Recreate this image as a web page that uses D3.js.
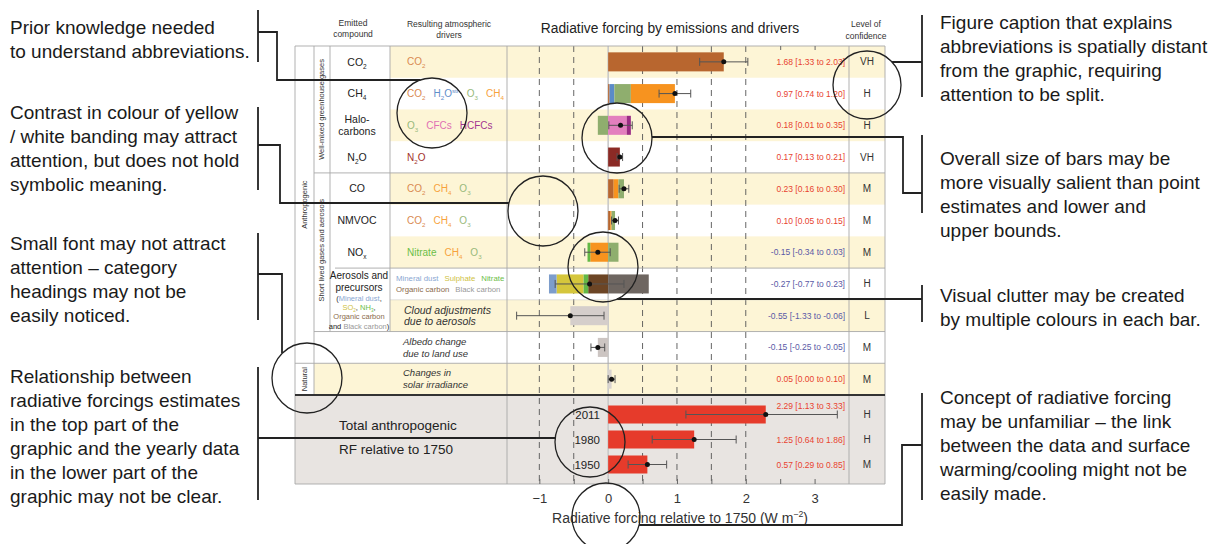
<!DOCTYPE html>
<html>
<head>
<meta charset="utf-8">
<script src="https://cdn.jsdelivr.net/npm/d3@7"></script>
<style>
  body { margin: 0; background: #fff; }
  svg { font-family: "Liberation Sans", Arial, sans-serif; }
</style>
</head>
<body>
<svg id="chart" width="1224" height="544"></svg>
<script>
// ---- data ----
var rows = ["CO2", "CH4", "Halocarbons", "N2O", "CO", "NMVOC", "NOx", "Aerosols", "Cloud", "Albedo", "Solar"];
var best = [1.68, 0.97, 0.18, 0.17, 0.23, 0.10, -0.15, -0.27, -0.55, -0.15, 0.05];
var low  = [1.33, 0.74, 0.01, 0.13, 0.16, 0.05, -0.34, -0.77, -1.33, -0.25, 0.00];
var high = [2.03, 1.20, 0.35, 0.21, 0.30, 0.15, 0.03, 0.23, -0.06, -0.05, 0.10];
var confidence = ["VH", "H", "H", "VH", "M", "M", "M", "H", "L", "M", "M"];

// bar pieces of each row, listed outwards from zero
var components = [
  [["CO2", 1.68]],
  [["CO2", 0.02], ["H2O", 0.07], ["O3", 0.24], ["CH4", 0.64]],
  [["O3", -0.15], ["CFCs", 0.27], ["HCFCs", 0.06]],
  [["N2O", 0.17]],
  [["CO2", 0.08], ["CH4", 0.07], ["O3", 0.08]],
  [["CO2", 0.03], ["CH4", 0.02], ["O3", 0.05]],
  [["CH4", -0.26], ["Nitrate", -0.04], ["O3", 0.15]],
  [["OC", -0.29], ["Nitrate", -0.07], ["Sulphate", -0.39], ["Dust", -0.11], ["BC", 0.59]],
  [["Cloud", -0.55]],
  [["Albedo", -0.15]],
  [["Solar", 0.05]]
];

var years = ["2011", "1980", "1950"];
var totalBest = [2.29, 1.25, 0.57];
var totalLow  = [1.13, 0.64, 0.29];
var totalHigh = [3.33, 1.86, 0.85];
var totalConf = ["H", "H", "M"];

var labelTicks = [-1, 0, 1, 2, 3];
var dashTicks = [-1, -0.5, 0.5, 1, 1.5, 2];
var halfTicks = [-1, -0.5, 0, 0.5, 1, 1.5, 2, 2.5, 3];

// text content of the table
var compoundLabels = ["CO_2", "CH_4", "Halo-|carbons", "N_2O", "CO", "NMVOC", "NO_x"];
var driverLabels = [
  [["CO_2", "CO2"]],
  [["CO_2", "CO2"], ["H_2O^{str}", "H2O"], ["O_3", "O3"], ["CH_4", "CH4"]],
  [["O_3", "O3"], ["CFCs", "CFCs"], ["HCFCs", "HCFCs"]],
  [["N_2O", "N2O"]],
  [["CO_2", "CO2"], ["CH_4", "CH4"], ["O_3", "O3"]],
  [["CO_2", "CO2"], ["CH_4", "CH4"], ["O_3", "O3"]],
  [["Nitrate", "Nitrate"], ["CH_4", "CH4"], ["O_3", "O3"]]
];
var aerosolDrivers = [
  [["Mineral dust", "Dust"], ["Sulphate", "Sulphate"], ["Nitrate", "Nitrate"]],
  [["Organic carbon", "OC"], ["Black carbon", "BC"]]
];
var aerosolCompound = [
  [["(", "ink"], ["Mineral dust", "Dust"], [",", "ink"]],
  [["SO_2", "Sulphate"], [", ", "ink"], ["NH_3", "Nitrate"], [",", "ink"]],
  [["Organic carbon", "OC"]],
  [["and ", "ink"], ["Black carbon", "BC"], [")", "ink"]]
];
var italicLabels = {
  Cloud: ["Cloud adjustments", "due to aerosols"],
  Albedo: ["Albedo change", "due to land use"],
  Solar: ["Changes in", "solar irradiance"]
};
var yellowRows = ["CO2", "Halocarbons", "CO", "NOx", "Cloud", "Solar"];

var notesLeft = [
  [27, ["Prior knowledge needed", "to understand abbreviations."]],
  [112, ["Contrast in colour of yellow", "/ white banding may attract", "attention, but does not hold", "symbolic meaning."]],
  [243, ["Small font may not attract", "attention \u2013 category", "headings may not be", "easily noticed."]],
  [376, ["Relationship between", "radiative forcings estimates", "in the top part of the", "graphic and the yearly data", "in the lower part of the", "graphic may not be clear."]]
];
var notesRight = [
  [22, ["Figure caption that explains", "abbreviations is spatially distant", "from the graphic, requiring", "attention to be split."]],
  [158, ["Overall size of bars may be", "more visually salient than point", "estimates and lower and", "upper bounds."]],
  [295, ["Visual clutter may be created", "by multiple colours in each bar."]],
  [397, ["Concept of radiative forcing", "may be unfamiliar \u2013 the link", "between the data and surface", "warming/cooling might not be", "easily made."]]
];

// ---- styles ----
var barColour = {CO2: "#b8662f", H2O: "#5b8bc8", O3: "#8fae6e", CH4: "#f7931f", CFCs: "#e37fbe",
  HCFCs: "#9a2b85", N2O: "#8b2a25", Nitrate: "#63b846", Dust: "#7d9dcb", Sulphate: "#d5c63c",
  OC: "#6c4525", BC: "#6e6661", Cloud: "#d5cecb", Albedo: "#ccc5c2", Solar: "#d8d2cf"};
var textColour = {CO2: "#d98a50", H2O: "#5f8ec9", O3: "#97b97a", CH4: "#f7a23c", CFCs: "#e06fb3",
  HCFCs: "#a3348f", N2O: "#a3312c", Nitrate: "#6cbe47", Dust: "#8aa7d2", Sulphate: "#cfc23f",
  OC: "#8b6b4b", BC: "#999", ink: "#222"};
var totalColour = "#e63b2b";
var posInk = "#e8432f", negInk = "#5a5aa6";
var yellow = "#fdf5d6", greyBox = "#e8e4e1", rule = "#a8a8a8";

var svg = d3.select("#chart");
var boxL = 295, boxR = 885, boxT = 46, boxSplit = 395, boxB = 484;
var plotL = 507, plotR = 849;

var x = d3.scaleLinear().domain([-1.47, 3.5]).range([plotL, plotR]);
var y = d3.scaleBand().domain(rows).range([boxT, boxSplit]);
var yt = d3.scaleBand().domain(years).range([boxSplit, boxB]).paddingInner(0.28).paddingOuter(0.42);

// rich text: "_x" subscript, "^{..}" superscript
function rich(textSel, str, size, colour, gap, state) {
  var parts = str.split(/(_\{[^}]*\}|_.|\^\{[^}]*\}|\^.)/).filter(Boolean);
  parts.forEach(function (p, k) {
    var t;
    if (p[0] === "_" || p[0] === "^") {
      var target = p[0] === "_" ? size * 0.3 : -size * 0.4;
      t = textSel.append("tspan").text(p.slice(1).replace(/[{}]/g, ""))
        .attr("font-size", size * 0.62).attr("dy", target - state.shift);
      state.shift = target;
    } else {
      t = textSel.append("tspan").text(p).attr("dy", -state.shift);
      state.shift = 0;
    }
    t.attr("fill", colour);
    if (k === 0 && gap) t.attr("dx", gap);
  });
}

function label(px, cy, pieces, opt) {
  opt = opt || {};
  var size = opt.size || 10;
  var t = svg.append("text").attr("x", px).attr("y", cy + size * 0.35)
    .attr("font-size", size).attr("text-anchor", opt.anchor || "start")
    .attr("font-style", opt.italic ? "italic" : null);
  var state = {shift: 0};
  pieces.forEach(function (p, k) {
    rich(t, p[0], size, textColour[p[1]] || p[1], k > 0 ? (opt.gap || 0) : 0, state);
  });
  return t;
}

// ---- table background ----
svg.append("rect").attr("x", boxL).attr("y", boxSplit).attr("width", boxR - boxL)
  .attr("height", boxB - boxSplit).attr("fill", greyBox);

svg.selectAll(".band").data(yellowRows).join("rect")
  .attr("x", function (r) { return r === "Solar" ? 314 : 390; })
  .attr("y", function (r) { return y(r); })
  .attr("width", function (r) { return boxR - (r === "Solar" ? 314 : 390); })
  .attr("height", y.bandwidth()).attr("fill", yellow);

// grid rules
function hline(yy, x0, x1, w, c) {
  svg.append("line").attr("x1", x0).attr("x2", x1).attr("y1", yy).attr("y2", yy)
    .attr("stroke", c || rule).attr("stroke-width", w || 0.9);
}
function vline(xx, y0, y1, w, c) {
  svg.append("line").attr("x1", xx).attr("x2", xx).attr("y1", y0).attr("y2", y1)
    .attr("stroke", c || rule).attr("stroke-width", w || 0.9);
}

// dashed reference lines and zero line
svg.selectAll(".dash").data(dashTicks).join("line")
  .attr("x1", x).attr("x2", x).attr("y1", boxT).attr("y2", boxB)
  .attr("stroke", "#555").attr("stroke-width", 0.9).attr("stroke-dasharray", "6,5");
vline(x(0), boxT, boxB, 1.6, "#c9c9c9");

hline(boxT, boxL, boxR);
hline(y("CO"), 314, boxR);
hline(y("Aerosols"), 335, boxR);
hline(y("Cloud"), 390, boxR, 0.6, "#ccc");
hline(y("Albedo"), 314, boxR);
hline(y("Solar"), boxL, boxR);
hline(boxB, boxL, boxR);
vline(boxL, boxT, boxB);
vline(boxR, boxT, boxB);
vline(314, boxT, boxSplit);
vline(330, boxT, y("Albedo"));
vline(390, boxT, y("Albedo"));
vline(plotL, boxT, boxB);
vline(plotR, boxT, boxB);
hline(boxSplit, boxL, boxR, 2, "#333");

// ticks
svg.append("g").attr("transform", "translate(0," + boxB + ")")
  .call(d3.axisTop(x).tickValues(halfTicks).tickSize(5).tickFormat(""))
  .call(function (g) { g.select(".domain").remove(); g.selectAll("line").attr("stroke", "#666"); });
svg.append("g").attr("transform", "translate(0," + boxT + ")")
  .call(d3.axisBottom(x).tickValues([2.5, 3]).tickSize(4).tickFormat(""))
  .call(function (g) { g.select(".domain").remove(); g.selectAll("line").attr("stroke", "#666"); });
svg.append("g").attr("transform", "translate(0," + boxB + ")")
  .call(d3.axisBottom(x).tickValues(labelTicks).tickSize(0).tickPadding(10).tickFormat(d3.format("d")))
  .call(function (g) {
    g.select(".domain").remove();
    g.selectAll("text").attr("font-size", 13).attr("fill", "#333")
      .attr("font-family", "Liberation Sans, Arial, sans-serif");
  });
label(680, 518, [["Radiative forcing relative to 1750 (W m^{\u22122})", "#333"]], {size: 14, anchor: "middle"});

// ---- bars ----
var bh = y.bandwidth() * 0.6;
rows.forEach(function (r, i) {
  var pos = 0, neg = 0;
  var pieces = components[i].map(function (c) {
    var a, b;
    if (c[1] >= 0) { a = pos; pos += c[1]; b = pos; } else { b = neg; neg += c[1]; a = neg; }
    return {key: c[0], a: a, b: b};
  });
  var cy = y(r) + y.bandwidth() / 2;
  svg.selectAll(".seg" + i).data(pieces).join("rect")
    .attr("x", function (d) { return x(d.a); })
    .attr("width", function (d) { return x(d.b) - x(d.a); })
    .attr("y", cy - bh / 2).attr("height", bh)
    .attr("fill", function (d) { return barColour[d.key]; });
});

function errorBar(cy, lo, hi, mid) {
  var g = svg.append("g").attr("stroke", "#555").attr("stroke-width", 1);
  g.append("line").attr("x1", x(lo)).attr("x2", x(hi)).attr("y1", cy).attr("y2", cy);
  g.append("line").attr("x1", x(lo)).attr("x2", x(lo)).attr("y1", cy - 4).attr("y2", cy + 4);
  g.append("line").attr("x1", x(hi)).attr("x2", x(hi)).attr("y1", cy - 4).attr("y2", cy + 4);
  svg.append("circle").attr("cx", x(mid)).attr("cy", cy).attr("r", 2.5).attr("fill", "#111");
}
function fmt(b, l, h) { return b.toFixed(2) + " [" + l.toFixed(2) + " to " + h.toFixed(2) + "]"; }

rows.forEach(function (r, i) {
  var cy = y(r) + y.bandwidth() / 2;
  errorBar(cy, low[i], high[i], best[i]);
  svg.append("text").attr("x", 845).attr("y", cy + 3).attr("text-anchor", "end")
    .attr("font-size", 8.5).attr("fill", best[i] >= 0 ? posInk : negInk)
    .text(fmt(best[i], low[i], high[i]));
  svg.append("text").attr("x", 867).attr("y", cy + 3.5).attr("text-anchor", "middle")
    .attr("font-size", 10).attr("fill", "#333").text(confidence[i]);
});

// totals
svg.selectAll(".tot").data(years).join("rect")
  .attr("x", x(0)).attr("y", function (d) { return yt(d); })
  .attr("width", function (d, i) { return x(totalBest[i]) - x(0); })
  .attr("height", yt.bandwidth()).attr("fill", totalColour);
years.forEach(function (yr, i) {
  var cy = yt(yr) + yt.bandwidth() / 2;
  errorBar(cy, totalLow[i], totalHigh[i], totalBest[i]);
  svg.append("text").attr("x", 845).attr("y", (i === 0 ? cy - 9 : cy) + 3).attr("text-anchor", "end")
    .attr("font-size", 8.5).attr("fill", posInk).text(fmt(totalBest[i], totalLow[i], totalHigh[i]));
  svg.append("text").attr("x", 867).attr("y", cy + 3.5).attr("text-anchor", "middle")
    .attr("font-size", 10).attr("fill", "#333").text(totalConf[i]);
  svg.append("text").attr("x", 600).attr("y", cy + 4).attr("text-anchor", "end")
    .attr("font-size", 11.5).attr("fill", "#222").text(yr);
});
label(339, 425, [["Total anthropogenic", "#222"]], {size: 13.5});
label(339, 449, [["RF relative to 1750", "#222"]], {size: 13.5});

// ---- table text ----
label(353, 23, [["Emitted", "#333"]], {size: 8.5, anchor: "middle"});
label(353, 34, [["compound", "#333"]], {size: 8.5, anchor: "middle"});
label(449, 24, [["Resulting atmospheric", "#333"]], {size: 8.5, anchor: "middle"});
label(449, 35, [["drivers", "#333"]], {size: 8.5, anchor: "middle"});
label(670, 28, [["Radiative forcing by emissions and drivers", "#222"]], {size: 13.8, anchor: "middle"});
label(866, 24, [["Level of", "#333"]], {size: 8.5, anchor: "middle"});
label(866, 36, [["confidence", "#333"]], {size: 8.5, anchor: "middle"});

compoundLabels.forEach(function (s, i) {
  var lines = s.split("|");
  var cy = y(rows[i]) + y.bandwidth() / 2;
  lines.forEach(function (ln, k) {
    label(357, cy + (k - (lines.length - 1) / 2) * 12, [[ln, "ink"]], {size: 10.5, anchor: "middle"});
  });
});
driverLabels.forEach(function (pieces, i) {
  label(407, y(rows[i]) + y.bandwidth() / 2, pieces, {size: 10, gap: 8});
});
var ya = y("Aerosols");
aerosolDrivers.forEach(function (pieces, k) {
  label(396, ya + 10 + k * 11, pieces, {size: 7.8, gap: 6});
});
label(359, ya + 7, [["Aerosols and", "ink"]], {size: 10, anchor: "middle"});
label(359, ya + 19, [["precursors", "ink"]], {size: 10, anchor: "middle"});
aerosolCompound.forEach(function (pieces, k) {
  label(359, ya + 30 + k * 9.3, pieces, {size: 7.5, anchor: "middle"});
});
Object.keys(italicLabels).forEach(function (r) {
  var cy = y(r) + y.bandwidth() / 2;
  var big = r === "Cloud";
  italicLabels[r].forEach(function (ln, k) {
    label(big ? 404 : 403, cy + (k - 0.5) * (big ? 11.5 : 12), [[ln, "#333"]], {size: big ? 10.5 : 9.5, italic: true});
  });
});

// rotated group labels
function vlabel(xx, cy, s) {
  svg.append("text").attr("transform", "translate(" + xx + "," + cy + ") rotate(-90)")
    .attr("text-anchor", "middle").attr("font-size", 7.5).attr("fill", "#333").text(s);
}
vlabel(307, (boxT + y("Solar")) / 2, "Anthropogenic");
vlabel(307, y("Solar") + y.bandwidth() / 2, "Natural");
vlabel(324, (boxT + y("CO")) / 2, "Well-mixed greenhouse gases");
vlabel(324, (y("CO") + y("Albedo")) / 2 - 2, "Short lived gases and aerosols");

// ---- annotations ----
function notes(list, xx) {
  list.forEach(function (n) {
    var t = svg.append("text").attr("x", xx).attr("y", n[0] + 6.5)
      .attr("font-size", 19).attr("fill", "#1a1a1a");
    n[1].forEach(function (ln, k) {
      t.append("tspan").attr("x", xx).attr("dy", k ? 24 : 0).text(ln);
    });
  });
}
notes(notesLeft, 10);
notes(notesRight, 940);

var circles = [[432, 113, 35], [867, 85, 34], [617, 138, 35], [543, 211, 35],
  [603, 267, 35], [307, 378, 35], [590, 442, 35], [606, 517, 34]];
svg.selectAll(".ring").data(circles).join("circle")
  .attr("cx", function (d) { return d[0]; }).attr("cy", function (d) { return d[1]; })
  .attr("r", function (d) { return d[2]; })
  .attr("fill", "none").attr("stroke", "#222").attr("stroke-width", 1.3);

function hitX(c, yy, side) { return c[0] + side * Math.sqrt(c[2] * c[2] - (yy - c[1]) * (yy - c[1])); }
var conn = [
  "M258,10V62M258,32H277V80H" + hitX(circles[0], 80, -1),
  "M258,107V190M258,145H280V203H" + hitX(circles[3], 203, -1),
  "M258,233V320M258,274H282V353",
  "M258,367V500M258,438H" + hitX(circles[6], 438, -1),
  "M922,15V97M922,62H" + hitX(circles[1], 62, 1),
  "M922,135V213M922,193H903V137H" + hitX(circles[2], 137, 1),
  "M922,285V322M922,299H" + hitX(circles[4], 299, 1),
  "M922,393V500M922,445H902V525H" + hitX(circles[7], 525, 1)
];
svg.selectAll(".conn").data(conn).join("path").attr("d", function (d) { return d; })
  .attr("fill", "none").attr("stroke", "#222").attr("stroke-width", 1.8);
</script>
</body>
</html>
